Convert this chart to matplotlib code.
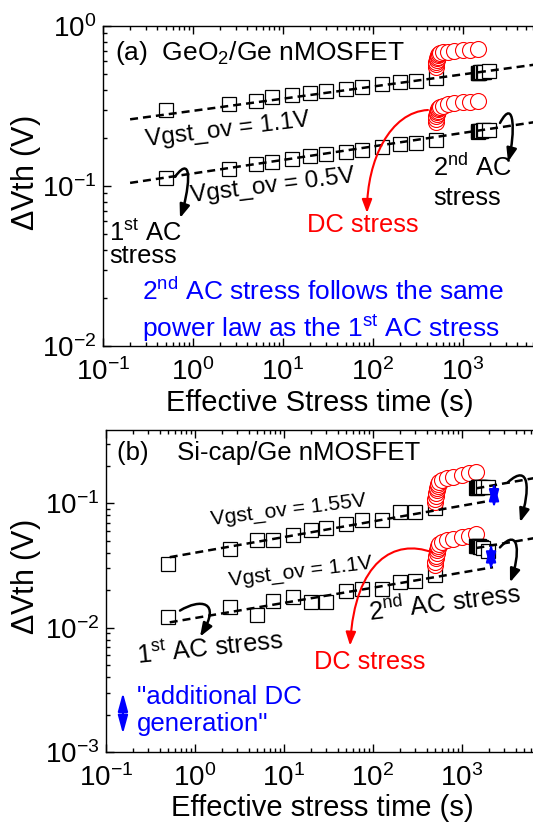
import numpy as np
import matplotlib
matplotlib.use("Agg")
import matplotlib.pyplot as plt
from matplotlib.path import Path
from matplotlib.patches import FancyArrowPatch

plt.rcParams['font.family'] = ['Liberation Sans', 'DejaVu Sans']
plt.rcParams['mathtext.fontset'] = 'custom'
plt.rcParams['mathtext.rm'] = 'Liberation Sans'
plt.rcParams['mathtext.it'] = 'Liberation Sans:italic'
plt.rcParams['mathtext.bf'] = 'Liberation Sans:bold'
plt.rcParams['mathtext.default'] = 'regular'
plt.rcParams['axes.unicode_minus'] = False

# stress times (s)
t_ac1 = [0.5, 2.5, 5, 7.5, 12.5, 20, 30, 50, 75, 125, 200, 300, 500]
t_dc = [500, 503, 507, 512, 518, 525, 533, 542, 555, 600, 680, 800, 1000, 1200, 1450]
t_ac2 = [1450, 1480, 1520, 1560, 1600, 1650, 1720, 1950]

# (a) GeO2/Ge nMOSFET, dVth (V)
a_hi_ac1 = [0.300, 0.325, 0.340, 0.361, 0.370, 0.383, 0.393, 0.404, 0.418, 0.432, 0.445, 0.455, 0.471]
a_hi_dc = [0.554, 0.575, 0.595, 0.613, 0.628, 0.642, 0.655, 0.666, 0.676, 0.684, 0.690, 0.698, 0.706, 0.712, 0.718]
a_hi_ac2 = [0.508, 0.510, 0.512, 0.514, 0.515, 0.516, 0.518, 0.520]
a_lo_ac1 = [0.112, 0.128, 0.137, 0.142, 0.147, 0.153, 0.158, 0.162, 0.168, 0.176, 0.182, 0.187, 0.194]
a_lo_dc = [0.251, 0.262, 0.272, 0.281, 0.289, 0.296, 0.302, 0.307, 0.312, 0.318, 0.324, 0.329, 0.333, 0.337, 0.340]
a_lo_ac2 = [0.219, 0.220, 0.221, 0.222, 0.222, 0.223, 0.224, 0.225]

# (b) Si-cap/Ge nMOSFET, dVth (V)
b_hi_ac1 = [0.0322, 0.0426, 0.0509, 0.0509, 0.0552, 0.0605, 0.0637, 0.0686, 0.0739, 0.0739, 0.0851, 0.0851, 0.0923]
b_hi_dc = [0.102, 0.108, 0.115, 0.121, 0.127, 0.133, 0.138, 0.143, 0.147, 0.153, 0.159, 0.163, 0.168, 0.174, 0.178]
b_hi_ac2 = [0.132, 0.133, 0.134, 0.134, 0.135, 0.135, 0.136, 0.135]
b_lo_ac1 = [0.01228, 0.01462, 0.01274, 0.01629, 0.01754, 0.0160, 0.0160, 0.01963, 0.02051, 0.02051, 0.02317, 0.0236, 0.02673]
b_lo_dc = [0.0316, 0.0338, 0.036, 0.038, 0.040, 0.042, 0.0437, 0.0453, 0.0468, 0.0485, 0.0503, 0.0518, 0.0532, 0.0550, 0.0562]
b_lo_ac2 = [0.0455, 0.0455, 0.0450, 0.0450, 0.0445, 0.0445, 0.0440, 0.0415]

# power-law fits dVth = A * t^n
a_hi_fit = [0.295, 0.076]
a_lo_fit = [0.1198, 0.0845]
b_hi_fit = [0.0400, 0.126]
b_hi_fit2 = [0.0527, 0.126]
b_lo_fit = [0.01194, 0.122]
b_lo_fit2 = [0.01796, 0.122]

# "additional DC generation" markers: [t, top, bottom]
b_gap_hi = [2290, 0.1476, 0.0911]
b_gap_lo = [2120, 0.0476, 0.0288]

decades = [0.1, 1, 10, 100, 1000]

RED = '#ff0000'
BLUE = '#0000ff'

sq = dict(ls='none', marker='s', ms=9.6, mfc='white', mec='black', mew=0.9)
circ = dict(ls='none', marker='o', ms=11.5, mfc='white', mec=RED, mew=0.8)
dash = dict(color='black', lw=1.8, dashes=(3.2, 2.0), zorder=4)
gap_arrow = dict(arrowstyle='<|-|>,head_length=1.1,head_width=0.3',
                 color=BLUE, lw=1.5, shrinkA=0, shrinkB=0, mutation_scale=10)


def powerlaw(fit, t0, t1):
    t = np.array([t0, t1])
    return t, fit[0] * t ** fit[1]


def curved_arrow(ax, pts, color, lw=1.8, head=(8, 3.5)):
    path = Path(pts, [Path.MOVETO, Path.CURVE4, Path.CURVE4, Path.CURVE4])
    style = '-|>,head_length=%.1f,head_width=%.1f' % (head[0] / 10, head[1] / 10)
    arr = FancyArrowPatch(path=path, arrowstyle=style, mutation_scale=10,
                          color=color, lw=lw, transform=ax.transData, zorder=6)
    ax.add_patch(arr)


def style_axes(ax):
    ax.set_xscale('log')
    ax.set_yscale('log')
    ax.set_xticks(decades)
    ax.tick_params(which='both', direction='in', top=True, right=True,
                   labelsize=20, width=1.0)
    ax.tick_params(which='major', length=6)
    ax.tick_params(axis='x', which='major', pad=9)
    ax.tick_params(axis='y', which='major', pad=5)
    ax.tick_params(which='minor', length=3)
    for s in ax.spines.values():
        s.set_linewidth(1.0)


fig = plt.figure(figsize=(5.33, 8.23), dpi=100)

# ---------------- (a) ----------------
ax = fig.add_axes([103 / 533, 477 / 823, 450 / 533, 320 / 823])
style_axes(ax)
ax.set_xlim(0.1, 1e4)
ax.set_ylim(1e-2, 1)

for ac1, dc, ac2 in [(a_hi_ac1, a_hi_dc, a_hi_ac2), (a_lo_ac1, a_lo_dc, a_lo_ac2)]:
    ax.plot(t_ac1, ac1, **sq, zorder=3)
    ax.plot(t_dc, dc, **circ, zorder=3)
    ax.plot(t_ac2, ac2, **sq, zorder=3)
for fit in (a_hi_fit, a_lo_fit):
    ax.plot(*powerlaw(fit, 0.2, 1e4), **dash)

ax.text(0.027, 0.916, '(a)  GeO$_2$/Ge nMOSFET', transform=ax.transAxes,
        fontsize=19, ha='left', va='center')
ax.text(0.278, 0.675, 'Vgst_ov = 1.1V', transform=ax.transAxes, fontsize=17.5,
        ha='center', va='center', rotation=7, rotation_mode='anchor')
ax.text(0.376, 0.50, 'Vgst_ov = 0.5V', transform=ax.transAxes, fontsize=17.5,
        ha='center', va='center', rotation=7, rotation_mode='anchor')
ax.text(0.733, 0.559, '2$^{nd}$ AC', transform=ax.transAxes, fontsize=18.4,
        ha='left', va='center')
ax.text(0.733, 0.4625, 'stress', transform=ax.transAxes, fontsize=18.4,
        ha='left', va='center')
ax.text(0.578, 0.378, 'DC stress', transform=ax.transAxes, fontsize=18.4,
        ha='center', va='center', color=RED)
ax.text(0.0133, 0.353, '1$^{st}$ AC', transform=ax.transAxes, fontsize=18.4,
        ha='left', va='center')
ax.text(0.0133, 0.280, 'stress', transform=ax.transAxes, fontsize=18.4,
        ha='left', va='center')
ax.text(0.0867, 0.169, '2$^{nd}$ AC stress follows the same', transform=ax.transAxes,
        fontsize=19, ha='left', va='center', color=BLUE)
ax.text(0.0867, 0.053, 'power law as the 1$^{st}$ AC stress', transform=ax.transAxes,
        fontsize=19, ha='left', va='center', color=BLUE)

curved_arrow(ax, [(0.63, 0.114), (1.05, 0.168), (0.88, 0.0879), (0.717, 0.063)], 'black')
curved_arrow(ax, [(2577, 0.2477), (3784, 0.3706), (3784, 0.2084), (3162, 0.1413)], 'black')
curved_arrow(ax, [(408, 0.2985), (154.5, 0.290), (85.8, 0.1454), (85.8, 0.0678)], RED, lw=1.5)

ax.set_xlabel('Effective Stress time (s)', fontsize=21)
ax.xaxis.set_label_coords(0.482, -0.134)
ax.set_ylabel('$\\Delta$Vth (V)', fontsize=22)
ax.yaxis.set_label_coords(-0.133, 0.54)

# ---------------- (b) ----------------
ax = fig.add_axes([106 / 533, 71 / 823, 445 / 533, 322 / 823])
style_axes(ax)
ax.set_xlim(0.1, 1e4)
ax.set_ylim(1e-3, 0.388)

for ac1, dc, ac2 in [(b_hi_ac1, b_hi_dc, b_hi_ac2), (b_lo_ac1, b_lo_dc, b_lo_ac2)]:
    ax.plot(t_ac1, ac1, **sq, zorder=3)
    ax.plot(t_dc, dc, **circ, zorder=3)
    ax.plot(t_ac2, ac2, **sq, zorder=3)
for fit, fit2 in [(b_hi_fit, b_hi_fit2), (b_lo_fit, b_lo_fit2)]:
    ax.plot(*powerlaw(fit, 0.52, 2230), **dash)
    ax.plot(*powerlaw(fit2, 1450, 1e4), **dash)
# shift between the two power laws = additional DC generation
for t, top, bot in (b_gap_hi, b_gap_lo):
    ax.annotate('', xy=(t, top), xytext=(t, bot), arrowprops=gap_arrow, zorder=7)

ax.text(0.0247, 0.9286, '(b)    Si-cap/Ge nMOSFET', transform=ax.transAxes,
        fontsize=18.5, ha='left', va='center')
ax.text(0.409, 0.7516, 'Vgst_ov = 1.55V', transform=ax.transAxes, fontsize=15.3,
        ha='center', va='center', rotation=7, rotation_mode='anchor')
ax.text(0.436, 0.559, 'Vgst_ov = 1.1V', transform=ax.transAxes, fontsize=15.3,
        ha='center', va='center', rotation=7, rotation_mode='anchor')
ax.text(0.762, 0.4627, '2$^{nd}$ AC stress', transform=ax.transAxes, fontsize=18.3,
        ha='center', va='center', rotation=7, rotation_mode='anchor')
ax.text(0.2337, 0.323, '1$^{st}$ AC stress', transform=ax.transAxes, fontsize=18.3,
        ha='center', va='center', rotation=6, rotation_mode='anchor')
ax.text(0.593, 0.2795, 'DC stress', transform=ax.transAxes, fontsize=18.3,
        ha='center', va='center', color=RED)
ax.text(0.0697, 0.1708, '"additional DC', transform=ax.transAxes, fontsize=18.6,
        ha='left', va='center', color=BLUE)
ax.text(0.0697, 0.088, 'generation"', transform=ax.transAxes, fontsize=18.6,
        ha='left', va='center', color=BLUE)
ax.annotate('', xy=(0.155, 0.00299), xytext=(0.155, 0.0014), arrowprops=gap_arrow)

curved_arrow(ax, [(0.6785, 0.01371), (1.138, 0.01714), (2.011, 0.01652), (1.138, 0.00845)], 'black')
curved_arrow(ax, [(3289, 0.1476), (5807, 0.2142), (5807, 0.1273), (4487, 0.0703)], 'black')
curved_arrow(ax, [(2673, 0.04415), (4487, 0.06653), (4487, 0.0381), (3459, 0.02307)], 'black')
curved_arrow(ax, [(460, 0.0403), (176.7, 0.0522), (62.8, 0.0347), (55.2, 0.00716)], RED, lw=1.5)

ax.set_xlabel('Effective stress time (s)', fontsize=21)
ax.xaxis.set_label_coords(0.485, -0.130)
ax.set_ylabel('$\\Delta$Vth (V)', fontsize=22)
ax.yaxis.set_label_coords(-0.142, 0.543)

fig.savefig('out.png', dpi=100)
